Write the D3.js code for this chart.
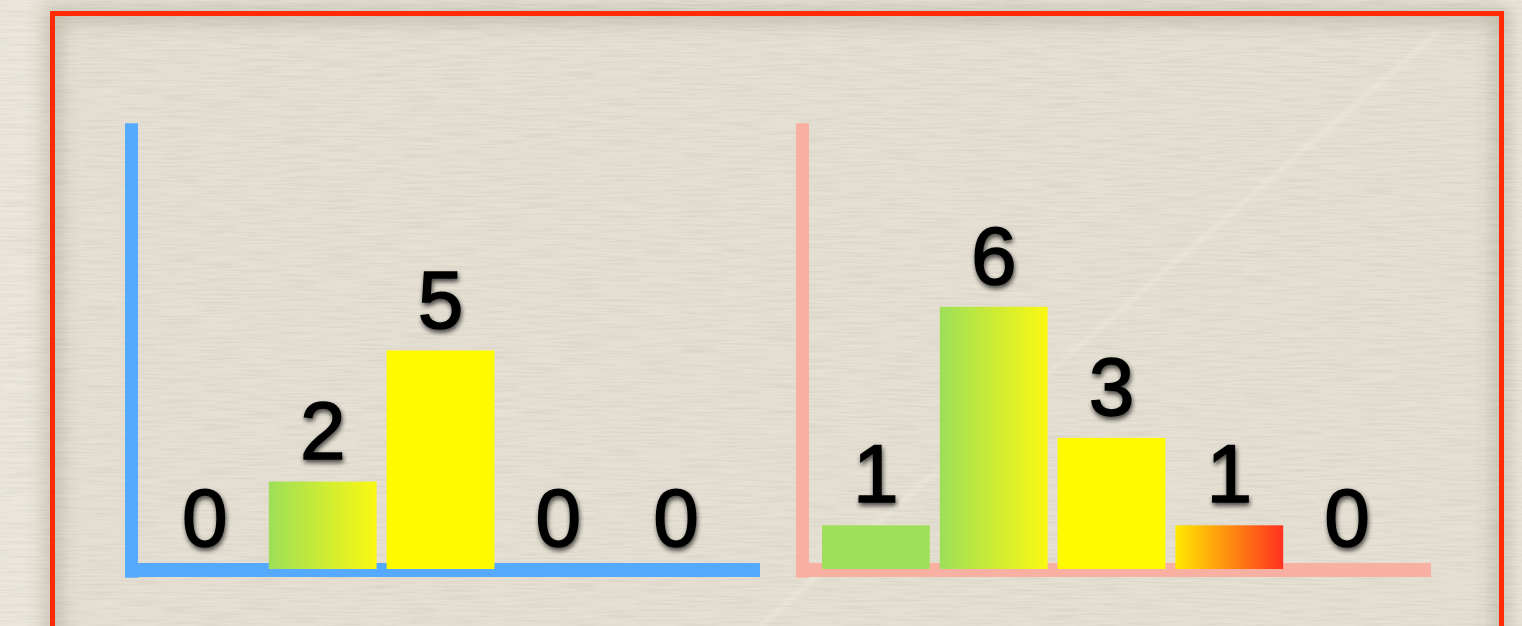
<!DOCTYPE html>
<html>
<head>
<meta charset="utf-8">
<script src="https://cdn.jsdelivr.net/npm/d3@7"></script>
<style>
  body { margin: 0; background: #e8e3d8; }
  svg { display: block; }
</style>
</head>
<body>
<div id="chart"></div>
<script>
// five levels, shared by both panels
var levels = ["l1", "l2", "l3", "l4", "l5"];
var leftValues = [0, 2, 5, 0, 0];
var rightValues = [1, 6, 3, 1, 0];

var width = 1522, height = 626;

var svg = d3.select("#chart").append("svg")
  .attr("width", width)
  .attr("height", height);

var defs = svg.append("defs");

// paper texture
var paper = defs.append("filter").attr("id", "paper")
  .attr("x", 0).attr("y", 0).attr("width", "100%").attr("height", "100%");
paper.append("feTurbulence")
  .attr("type", "fractalNoise")
  .attr("baseFrequency", "0.025 0.5")
  .attr("numOctaves", 2)
  .attr("seed", 3);
paper.append("feColorMatrix")
  .attr("values", "0 0 0 0 0.45  0 0 0 0 0.42  0 0 0 0 0.35  0 0 0 -0.45 0.28");
paper.append("feComposite").attr("in2", "SourceGraphic").attr("operator", "in");

var blur = defs.append("filter").attr("id", "blur")
  .attr("x", "-20%").attr("y", "-20%").attr("width", "140%").attr("height", "140%");
blur.append("feGaussianBlur").attr("stdDeviation", 9);

var soft = defs.append("filter").attr("id", "soft");
soft.append("feGaussianBlur").attr("stdDeviation", 2);

var txtShadow = defs.append("filter").attr("id", "txtShadow")
  .attr("x", "-30%").attr("y", "-30%").attr("width", "160%").attr("height", "160%");
txtShadow.append("feGaussianBlur").attr("in", "SourceAlpha").attr("stdDeviation", 2.5).attr("result", "b");
txtShadow.append("feOffset").attr("in", "b").attr("dx", 1).attr("dy", 3).attr("result", "o");
txtShadow.append("feComponentTransfer").attr("in", "o").attr("result", "o2")
  .append("feFuncA").attr("type", "linear").attr("slope", 0.7);
var merge = txtShadow.append("feMerge");
merge.append("feMergeNode").attr("in", "o2");
merge.append("feMergeNode").attr("in", "SourceGraphic");

function grad(id, c1, c2) {
  var g = defs.append("linearGradient").attr("id", id)
    .attr("x1", "0%").attr("x2", "100%").attr("y1", "0%").attr("y2", "0%");
  g.append("stop").attr("offset", "0%").attr("stop-color", c1);
  g.append("stop").attr("offset", "100%").attr("stop-color", c2);
}
grad("gy", "#9ddf58", "#fbf812");
grad("yr", "#ffe900", "#ff3020");

var fills = ["#9ee05a", "url(#gy)", "#fffa00", "url(#yr)", "#ff3020"];
var fillOf = d3.scaleOrdinal().domain(levels).range(fills);

// background
svg.append("rect").attr("width", width).attr("height", height).attr("fill", "#ebe7dc");
svg.append("rect").attr("x", 52).attr("y", 13).attr("width", 1449).attr("height", 640)
  .attr("fill", "#e5e0d3");
svg.append("rect").attr("width", width).attr("height", height)
  .attr("fill", "#e6e1d5").attr("filter", "url(#paper)");

// frame shadow + faint crease
svg.append("rect").attr("x", 52.5).attr("y", 13.5).attr("width", 1449).attr("height", 640)
  .attr("fill", "none").attr("stroke", "rgba(90,80,60,0.25)").attr("stroke-width", 16)
  .attr("filter", "url(#blur)");
svg.append("line").attr("x1", 760).attr("y1", 626).attr("x2", 1440).attr("y2", 30)
  .attr("stroke", "rgba(255,255,250,0.3)").attr("stroke-width", 3).attr("filter", "url(#soft)");

svg.append("rect").attr("x", 52.5).attr("y", 13.5).attr("width", 1449).attr("height", 640)
  .attr("fill", "none").attr("stroke", "#ff2a00").attr("stroke-width", 5);

var y = d3.scaleLinear().domain([0, 10]).range([569, 132]);

function panel(x0, values, axisColor) {
  var x = d3.scaleBand().domain(levels).range([x0, x0 + 589])
    .paddingInner(0.085).paddingOuter(0.0425);
  var data = levels.map(function(k, i) { return {key: k, value: values[i]}; });
  var g = svg.append("g");

  var axisLeftX = x0 - 21;
  var axisRight = x0 + 614;
  // axes
  g.append("rect").attr("x", axisLeftX).attr("y", y(10.2))
    .attr("width", 13).attr("height", y(-0.2) - y(10.2))
    .attr("fill", axisColor);
  g.append("rect").attr("x", axisLeftX).attr("y", y(0) - 6)
    .attr("width", axisRight - axisLeftX).attr("height", 14)
    .attr("fill", axisColor);

  g.selectAll(".bar").data(data).enter().append("rect")
    .attr("class", "bar")
    .attr("x", function(d) { return x(d.key); })
    .attr("width", x.bandwidth())
    .attr("y", function(d) { return y(d.value); })
    .attr("height", function(d) { return y(0) - y(d.value); })
    .attr("fill", function(d) { return fillOf(d.key); });

  g.selectAll(".lbl").data(data).enter().append("text")
    .attr("class", "lbl")
    .attr("x", function(d) { return x(d.key) + x.bandwidth() / 2; })
    .attr("y", function(d) { return y(d.value) - 23; })
    .attr("text-anchor", "middle")
    .attr("font-family", "Liberation Sans, Arial, sans-serif")
    .attr("font-size", 82)
    .attr("fill", "#000")
    .attr("stroke", "#000").attr("stroke-width", 1.5)
    .attr("filter", "url(#txtShadow)")
    .text(function(d) { return d.value; });
}

panel(146, leftValues, "#55aaff");
panel(817, rightValues, "#f8b0a2");
</script>
</body>
</html>
